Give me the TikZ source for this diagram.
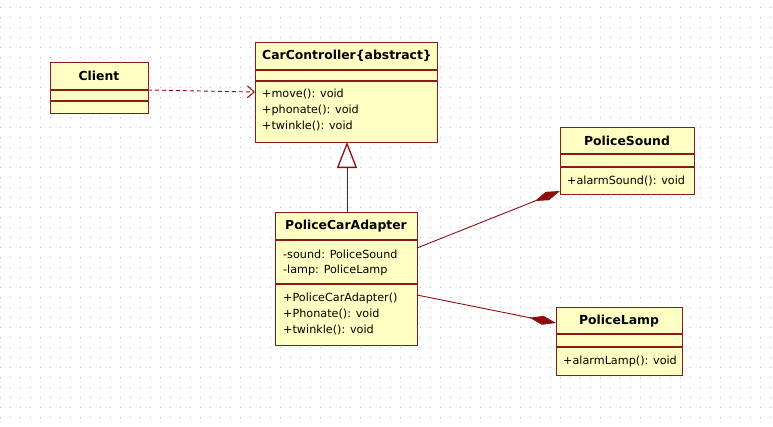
\documentclass[tikz,border=0pt]{standalone}
\usepackage{fontspec}
\setmainfont{DejaVu Sans}
\usetikzlibrary{arrows.meta}
\definecolor{umlfill}{HTML}{FFFFC4}
\definecolor{umlborder}{HTML}{8B1A1A}
\definecolor{umlline}{HTML}{8B1010}
\definecolor{dotgray}{HTML}{B4B4B4}
\tikzset{
  umlbox/.style={draw=umlborder, fill=umlfill, line width=1.1pt, anchor=north west, inner sep=0pt},
  divider/.style={draw=umlborder, line width=1.1pt},
  titletext/.style={font=\fontsize{12.4}{14}\selectfont\bfseries, inner sep=0pt, anchor=center},
  membertext/.style={font=\fontsize{11.2}{14}\selectfont, inner sep=0pt, anchor=west},
  conn/.style={draw=umlline, line width=0.9pt},
}
\begin{document}
\begin{tikzpicture}[x=1pt,y=-1pt]
\useasboundingbox (0,0) rectangle (773,426);
\fill[white] (0,0) rectangle (773,426);
\foreach \i in {0,...,77}{
  \foreach \j in {0,...,41}{
    \fill[dotgray] (10*\i,7+10*\j) rectangle ++(1,1);
  }
}
% Client
\node[umlbox, minimum width=98pt, minimum height=51pt] (client) at (50,62) {};
\draw[divider] (50,90) -- (148,90);
\draw[divider] (50,101) -- (148,101);
\node[titletext] (clientT) at (99,76) {Client};
% CarController
\node[umlbox, minimum width=182pt, minimum height=100pt] (car) at (255,42) {};
\draw[divider] (255,70) -- (437,70);
\draw[divider] (255,81) -- (437,81);
\node[titletext] (carT) at (347,56) {CarController\{abstract\}};
\node[membertext] (carM1) at (262,94) {+move(): void};
\node[membertext] (carM2) at (262,110) {+phonate(): void};
\node[membertext] (carM3) at (262,126) {+twinkle(): void};
% PoliceCarAdapter
\node[umlbox, minimum width=142pt, minimum height=133pt] (adapter) at (275,212) {};
\draw[divider] (275,240) -- (417,240);
\draw[divider] (275,284) -- (417,284);
\node[titletext] (adT) at (346,226) {PoliceCarAdapter};
\node[membertext] (adA1) at (283,254) {-sound: PoliceSound};
\node[membertext] (adA2) at (283,270) {-lamp: PoliceLamp};
\node[membertext] (adM1) at (283,298) {+PoliceCarAdapter()};
\node[membertext] (adM2) at (283,314) {+Phonate(): void};
\node[membertext] (adM3) at (283,330) {+twinkle(): void};
% PoliceSound
\node[umlbox, minimum width=134pt, minimum height=67pt] (sound) at (560,127) {};
\draw[divider] (560,154) -- (694,154);
\draw[divider] (560,167) -- (694,167);
\node[titletext] (soT) at (627,141) {PoliceSound};
\node[membertext] (soM1) at (567,181) {+alarmSound(): void};
% PoliceLamp
\node[umlbox, minimum width=126pt, minimum height=68pt] (lamp) at (556,307) {};
\draw[divider] (556,334) -- (682,334);
\draw[divider] (556,347) -- (682,347);
\node[titletext] (laT) at (619,321) {PoliceLamp};
\node[membertext] (laM1) at (563,361) {+alarmLamp(): void};
% Connectors
\coordinate (depS) at (148,90);
\coordinate (depE) at (255,92);
\draw[conn, dash pattern=on 4pt off 3pt, -{Straight Barb[length=7pt,width=12pt,line width=1pt]}] (depS) -- (depE);
\coordinate (genS) at (347,212);
\coordinate (genE) at (347,142);
\draw[conn, -{Triangle[open,length=26pt,width=20pt,line width=1.3pt]}] (genS) -- (genE);
\coordinate (c1S) at (417,248);
\coordinate (c1E) at (560,191);
\draw[conn, -{Diamond[length=27pt,width=9pt]}] (c1S) -- (c1E);
\coordinate (c2S) at (417,295);
\coordinate (c2E) at (556,323);
\draw[conn, -{Diamond[length=27pt,width=9pt]}] (c2S) -- (c2E);
\end{tikzpicture}
\end{document}
